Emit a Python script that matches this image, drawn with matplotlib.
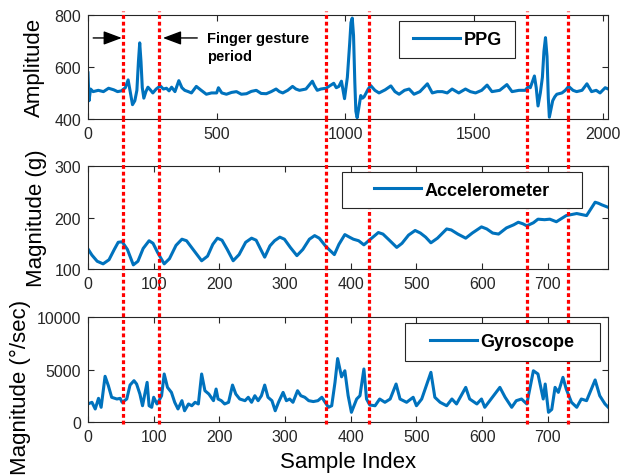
import matplotlib
matplotlib.use('Agg')
import matplotlib.pyplot as plt
import matplotlib.transforms as mtransforms
from matplotlib.lines import Line2D
from matplotlib.patches import Rectangle

plt.rcParams['font.family'] = ['Liberation Sans', 'DejaVu Sans']

# PPG trace (sample index, amplitude)
ppg_points = [
    (0, 577), (4, 470), (10, 515), (20, 505), (40, 510), (60, 505), (80, 518),
    (100, 512), (115, 505), (130, 508), (145, 520), (156, 550), (165, 500),
    (173, 455), (182, 470), (190, 510), (196, 620), (201, 692), (206, 620),
    (211, 520), (217, 480), (225, 505), (233, 522), (242, 512), (252, 500),
    (265, 515), (281, 527), (293, 515), (305, 518), (315, 508), (325, 522),
    (338, 505), (353, 547), (365, 520), (376, 510), (390, 505), (402, 500),
    (421, 525), (440, 510), (460, 495), (480, 500), (500, 500), (507, 520),
    (520, 500), (538, 495), (558, 502), (577, 505), (596, 495), (616, 497),
    (635, 506), (654, 510), (673, 498), (693, 497), (712, 505), (731, 515),
    (744, 505), (757, 500), (776, 510), (795, 525), (808, 515), (822, 510),
    (847, 515), (872, 545), (880, 528), (891, 510), (905, 515), (925, 518),
    (955, 537), (965, 520), (975, 525), (985, 545), (997, 478), (1008, 560),
    (1017, 690), (1022, 770), (1027, 787), (1032, 720), (1037, 540),
    (1041, 430), (1046, 405), (1052, 440), (1060, 490), (1067, 480),
    (1073, 485), (1089, 515), (1099, 528), (1115, 510), (1131, 500),
    (1155, 512), (1177, 527), (1193, 505), (1209, 495), (1230, 510),
    (1248, 515), (1267, 495), (1290, 505), (1319, 535), (1338, 500),
    (1358, 505), (1377, 505), (1396, 500), (1415, 515), (1441, 500),
    (1467, 515), (1486, 505), (1506, 500), (1530, 510), (1551, 530),
    (1570, 505), (1600, 510), (1628, 532), (1648, 505), (1675, 510),
    (1699, 510), (1712, 525), (1719, 520), (1728, 545), (1735, 565),
    (1742, 520), (1749, 450), (1758, 500), (1766, 560), (1772, 660),
    (1778, 712), (1784, 640), (1789, 480), (1793, 407), (1800, 440),
    (1806, 470), (1814, 485), (1822, 495), (1842, 500), (1855, 510),
    (1868, 525), (1885, 510), (1899, 505), (1920, 510), (1939, 535),
    (1957, 505), (1975, 510), (1990, 500), (2010, 520), (2022, 515),
]

# accelerometer magnitude (sample index, g)
acc_points = [
    (0, 139), (6, 127), (14, 115), (23, 110), (32, 118), (40, 138), (46, 152),
    (52, 153), (60, 138), (69, 108), (76, 115), (84, 140), (93, 155),
    (99, 150), (106, 132), (116, 110), (124, 120), (134, 146), (143, 158),
    (150, 155), (160, 138), (173, 116), (182, 125), (190, 148), (197, 160),
    (204, 156), (212, 138), (221, 116), (230, 128), (240, 152), (249, 160),
    (256, 156), (263, 138), (269, 123), (277, 145), (284, 155), (292, 162),
    (299, 158), (308, 142), (318, 126), (327, 138), (337, 158), (345, 165),
    (352, 160), (362, 144), (375, 128), (382, 148), (391, 167), (398, 162),
    (404, 158), (412, 155), (420, 147), (430, 158), (442, 171), (449, 168),
    (458, 157), (470, 142), (478, 150), (488, 166), (498, 175), (506, 170),
    (514, 162), (522, 151), (532, 160), (546, 178), (553, 176), (563, 168),
    (575, 160), (585, 170), (599, 182), (607, 178), (616, 170), (625, 168),
    (637, 180), (648, 186), (655, 191), (662, 188), (668, 184), (678, 190),
    (685, 197), (695, 196), (703, 197), (713, 192), (728, 204), (744, 208),
    (759, 204), (766, 218), (772, 230), (777, 228), (782, 225), (792, 220),
]

# gyroscope magnitude (sample index, deg/sec)
gyr_points = [
    (0, 1700), (6, 1860), (11, 1220), (16, 2240), (20, 1380), (26, 4350),
    (31, 3450), (36, 2340), (44, 2175), (49, 2240), (52, 1860), (59, 2175),
    (64, 3510), (70, 3930), (74, 3610), (79, 2650), (83, 1530), (88, 3130),
    (90, 3770), (93, 1530), (97, 1380), (100, 2340), (105, 1700), (108, 2015),
    (112, 2490), (116, 4570), (121, 3290), (127, 2810), (132, 1860),
    (137, 1220), (143, 2015), (147, 1050), (153, 1700), (158, 1530),
    (163, 1860), (168, 1700), (173, 4570), (178, 2970), (184, 2650),
    (191, 2015), (195, 3130), (198, 2175), (203, 2015), (208, 1700),
    (214, 1860), (220, 3510), (225, 2650), (231, 2175), (239, 2015),
    (244, 2340), (249, 1860), (254, 2490), (259, 2015), (264, 2490),
    (269, 3510), (274, 2340), (280, 2015), (285, 1050), (290, 1860),
    (297, 2810), (302, 2015), (307, 2175), (312, 1860), (319, 2970),
    (324, 2490), (330, 2340), (336, 2015), (343, 1930), (350, 2015),
    (356, 2340), (361, 1860), (366, 1380), (371, 1530), (376, 3770),
    (380, 6050), (386, 4300), (391, 4880), (396, 2500), (401, 900),
    (409, 2175), (414, 2490), (420, 5050), (424, 2175), (429, 1600),
    (437, 1530), (444, 2175), (452, 1860), (460, 2175), (469, 3610),
    (475, 2175), (485, 1860), (495, 2340), (500, 1530), (508, 2175),
    (522, 4730), (528, 2340), (536, 1860), (546, 1530), (554, 2175),
    (561, 1700), (575, 3290), (581, 2175), (592, 1700), (599, 2175),
    (604, 1380), (627, 3290), (635, 2340), (645, 1380), (652, 2015),
    (660, 2175), (668, 1700), (678, 4880), (685, 4570), (693, 2175),
    (696, 3610), (701, 900), (706, 1180), (711, 3290), (716, 2810),
    (723, 4250), (728, 3130), (736, 1860), (744, 1380), (751, 2175),
    (759, 2015), (772, 4000), (779, 2490), (787, 1700), (792, 1380),
]

# finger gesture boundaries, in IMU sample index
event_idx = [53, 108, 363, 428, 669, 731]

ppg_idx, ppg_val = zip(*ppg_points)
acc_idx, acc_val = zip(*acc_points)
gyr_idx, gyr_val = zip(*gyr_points)

blue = '#0072BD'
dark = '#262626'

fig = plt.figure(figsize=(6.21, 4.77), dpi=100)
ax1 = fig.add_axes([0.1417, 0.7484, 0.8378, 0.2187])
ax2 = fig.add_axes([0.1417, 0.4340, 0.8378, 0.2153])
ax3 = fig.add_axes([0.1417, 0.1138, 0.8378, 0.2189])


def style(ax, xlim, ylim, xticks, yticks):
    ax.set_xlim(xlim)
    ax.set_ylim(ylim)
    ax.set_xticks(xticks)
    ax.set_yticks(yticks)
    ax.tick_params(direction='in', top=True, right=True, length=4, width=0.8,
                   labelsize=11.5, colors=dark, pad=5)
    for s in ax.spines.values():
        s.set_color(dark)
        s.set_linewidth(0.8)


def legend_box(ax, box):
    # box drawn by hand so its size matches the original
    x0, y0, x1, y1 = box
    ax.add_patch(Rectangle((x0, y0), x1 - x0, y1 - y0, transform=ax.transAxes,
                           facecolor='white', edgecolor=dark, lw=0.8, zorder=4))
    ax.legend(loc='center', bbox_to_anchor=((x0 + x1) / 2, (y0 + y1) / 2),
              frameon=False, prop={'weight': 'bold', 'size': 13},
              handlelength=2.6, handletextpad=0.2)


ax1.plot(ppg_idx, ppg_val, color=blue, lw=2.2, label='PPG')
style(ax1, (0, 2022), (400, 800), range(0, 2001, 500), [400, 600, 800])
ax1.set_ylabel('Amplitude', fontsize=16, labelpad=7)
legend_box(ax1, (0.598, 0.582, 0.821, 0.937))

ax2.plot(acc_idx, acc_val, color=blue, lw=2.2, label='Accelerometer')
style(ax2, (0, 792), (100, 300), range(0, 701, 100), [100, 200, 300])
ax2.set_ylabel('Magnitude (g)', fontsize=16, labelpad=5)
legend_box(ax2, (0.488, 0.591, 0.949, 0.947))

ax3.plot(gyr_idx, gyr_val, color=blue, lw=2.2, label='Gyroscope')
style(ax3, (0, 792), (0, 10000), range(0, 701, 100), [0, 5000, 10000])
ax3.set_ylabel('Magnitude (°/sec)', fontsize=16, labelpad=4)
ax3.yaxis.label.set_y(0.34)
ax3.set_xlabel('Sample Index', fontsize=16, labelpad=5)
legend_box(ax3, (0.609, 0.584, 0.984, 0.945))

# annotation for the first gesture
arw = dict(arrowstyle='-|>,head_length=0.8,head_width=0.3', color='k', lw=1,
           mutation_scale=14, shrinkA=0, shrinkB=0)
ax1.annotate('', xy=(0.065, 0.777), xytext=(0.010, 0.777),
             xycoords='axes fraction', arrowprops=arw)
ax1.annotate('', xy=(0.144, 0.777), xytext=(0.210, 0.777),
             xycoords='axes fraction', arrowprops=arw)
ax1.text(0.229, 0.84, 'Finger gesture\nperiod', transform=ax1.transAxes,
         fontsize=10.5, fontweight='bold', va='top', ha='left', linespacing=1.3)

# red dotted gesture boundaries running through all three panels
spans = [(ax1, 0.0, 1.036), (ax2, 0.0, 1.46), (ax3, -0.022, 1.463)]
for ax, lo, hi in spans:
    trans = mtransforms.blended_transform_factory(ax3.transData, ax.transAxes)
    for xi in event_idx:
        ln = Line2D([xi, xi], [lo, hi], transform=trans, color='red', lw=2.3,
                    ls=(0, (1.2, 0.9)), clip_on=False, zorder=3)
        ax.add_artist(ln)

plt.savefig('out.png', dpi=100)
